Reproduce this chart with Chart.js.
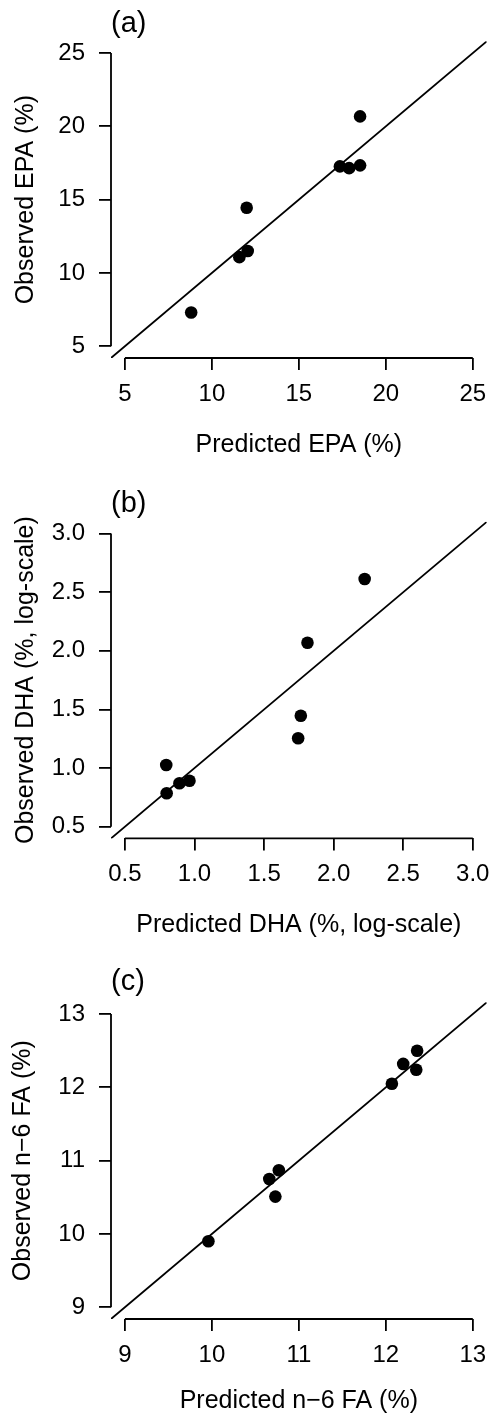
<!DOCTYPE html>
<html>
<head>
<meta charset="utf-8">
<script src="https://cdn.jsdelivr.net/npm/chart.js@4/dist/chart.umd.min.js"></script>
<style>
  body { margin: 0; background: #fff; }
  .panel { position: relative; width: 493px; height: 472px; }
</style>
</head>
<body>
<div class="panel"><canvas id="chartA"></canvas></div>
<div class="panel"><canvas id="chartB"></canvas></div>
<div class="panel"><canvas id="chartC"></canvas></div>
<script>
// (a) EPA
const epaPred = [8.81, 11.58, 12.06, 12.0, 17.36, 17.89, 18.52, 18.52];
const epaObs = [7.30, 11.08, 11.50, 14.45, 17.27, 17.15, 17.34, 20.68];
const epaTicks = [5, 10, 15, 20, 25];
const epaLim = [4.2, 25.8];

// (b) DHA
const dhaPred = [0.797, 0.80, 0.892, 0.964, 1.745, 1.764, 1.812, 2.223];
const dhaObs = [1.026, 0.785, 0.87, 0.892, 1.254, 1.446, 2.069, 2.612];
const dhaTicks = [0.5, 1.0, 1.5, 2.0, 2.5, 3.0];
const dhaLim = [0.4, 3.1];

// (c) n-6 FA
const n6Pred = [9.96, 10.66, 10.77, 10.73, 12.07, 12.20, 12.36, 12.35];
const n6Obs = [9.90, 10.75, 10.87, 10.51, 12.05, 12.32, 12.50, 12.24];
const n6Ticks = [9, 10, 11, 12, 13];
const n6Lim = [8.84, 13.16];

Chart.defaults.color = "#000";
Chart.defaults.font.family = "'Liberation Sans', Arial, Helvetica, sans-serif";

const FONT = "'Liberation Sans', Arial, Helvetica, sans-serif";
const LW = 1.8;

// R style axis: line only from first to last tick
const axisLines = {
    id: "axisLines",
    afterDraw(chart) {
        let ctx = chart.ctx;
        let area = chart.chartArea;
        let x = chart.scales.x;
        let y = chart.scales.y;
        ctx.save();
        ctx.strokeStyle = "#000";
        ctx.lineWidth = LW;
        ctx.beginPath();
        ctx.moveTo(x.getPixelForValue(x.ticks[0].value), area.bottom);
        ctx.lineTo(x.getPixelForValue(x.ticks[x.ticks.length - 1].value), area.bottom);
        ctx.moveTo(area.left, y.getPixelForValue(y.ticks[0].value));
        ctx.lineTo(area.left, y.getPixelForValue(y.ticks[y.ticks.length - 1].value));
        ctx.stroke();
        ctx.restore();
    }
};

function makePanel(id, p) {
    let pts = p.pred.map((v, i) => ({ x: v, y: p.obs[i] }));
    let line = p.lim.map(v => ({ x: v, y: v }));
    let fmt = v => p.digits ? Number(v).toFixed(p.digits) : String(v);

    new Chart(document.getElementById(id), {
        type: "scatter",
        data: {
            datasets: [{
                data: pts,
                pointRadius: 6.3,
                pointBackgroundColor: "#000",
                pointBorderWidth: 0,
                showLine: false
            }, {
                type: "line",
                data: line,
                borderColor: "#000",
                borderWidth: LW,
                pointRadius: 0,
                fill: false
            }]
        },
        options: {
            responsive: true,
            maintainAspectRatio: false,
            animation: false,
            events: [],
            layout: { padding: { top: p.padTop, bottom: p.padBottom, left: 0, right: 5 } },
            plugins: {
                legend: { display: false },
                tooltip: { enabled: false },
                title: {
                    display: true,
                    text: p.title,
                    align: "start",
                    fullSize: false,
                    color: "#000",
                    font: { family: FONT, size: 29, weight: "normal", lineHeight: 1.15 },
                    padding: { top: 7, bottom: p.titleGap }
                }
            },
            scales: {
                x: {
                    type: "linear",
                    min: p.lim[0],
                    max: p.lim[1],
                    afterBuildTicks: s => { s.ticks = p.ticks.map(v => ({ value: v })); },
                    afterFit: s => { s.height = p.xHeight; s.paddingLeft = 0; s.paddingRight = 0; },
                    border: { display: false },
                    grid: { drawOnChartArea: false, drawTicks: true, tickLength: 12, color: "#000", lineWidth: LW },
                    ticks: { autoSkip: false, maxRotation: 0, padding: 10, font: { family: FONT, size: 24 }, callback: v => fmt(v) },
                    title: { display: true, text: p.xTitle, font: { family: FONT, size: 25 }, padding: { top: 0, bottom: 0 } }
                },
                y: {
                    type: "linear",
                    min: p.lim[0],
                    max: p.lim[1],
                    afterBuildTicks: s => { s.ticks = p.ticks.map(v => ({ value: v })); },
                    afterFit: s => { s.width = 111; s.paddingTop = 0; s.paddingBottom = 0; },
                    border: { display: false },
                    grid: { drawOnChartArea: false, drawTicks: true, tickLength: 12, color: "#000", lineWidth: LW },
                    ticks: { autoSkip: false, padding: 14, font: { family: FONT, size: 24 }, callback: v => fmt(v) },
                    title: { display: true, text: p.yTitle, font: { family: FONT, size: 25 }, padding: { top: p.yTitlePad, bottom: 0 } }
                }
            }
        },
        plugins: [axisLines]
    });
}

makePanel("chartA", {
    pred: epaPred, obs: epaObs, ticks: epaTicks, lim: epaLim, digits: 0,
    title: "(a)", xTitle: "Predicted EPA (%)", yTitle: "Observed EPA (%)",
    padTop: 0, titleGap: 1, padBottom: 12, xHeight: 102, yTitlePad: 11
});

makePanel("chartB", {
    pred: dhaPred, obs: dhaObs, ticks: dhaTicks, lim: dhaLim, digits: 1,
    title: "(b)", xTitle: "Predicted DHA (%, log-scale)", yTitle: "Observed DHA (%, log-scale)",
    padTop: 8.5, titleGap: 1, padBottom: 3.6, xHeight: 102, yTitlePad: 11
});

makePanel("chartC", {
    pred: n6Pred, obs: n6Obs, ticks: n6Ticks, lim: n6Lim, digits: 0,
    title: "(c)", xTitle: "Predicted n\u22126 FA (%)", yTitle: "Observed n\u22126 FA (%)",
    padTop: 14, titleGap: 4, padBottom: 0, xHeight: 97, yTitlePad: 8
});
</script>
</body>
</html>
